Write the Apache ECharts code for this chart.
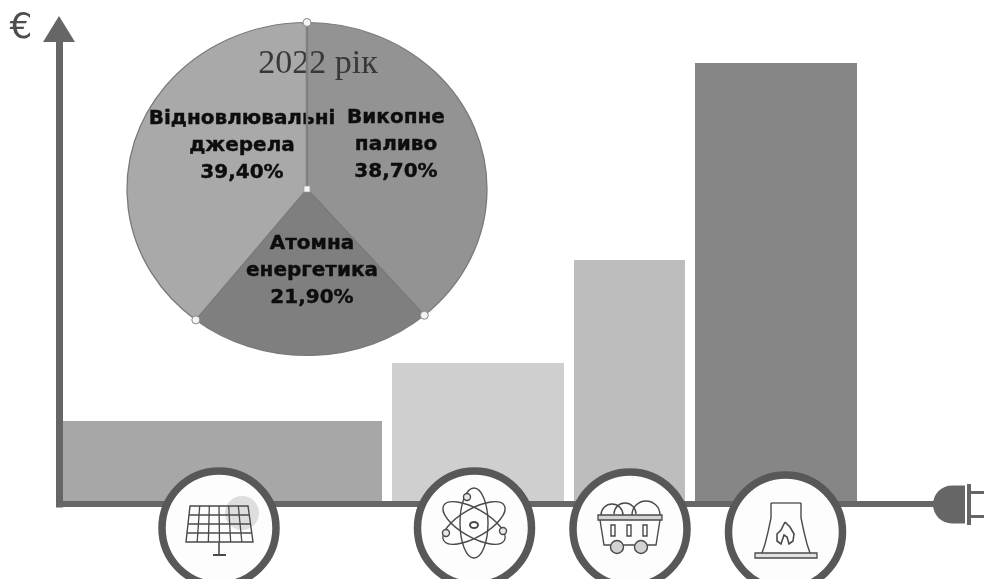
<!DOCTYPE html>
<html>
<head>
<meta charset="utf-8">
<title>Ціна та структура генерації електроенергії</title>
<style>html,body{margin:0;padding:0;background:#fff}#chart{width:984px;height:579px}</style>
<script src="https://cdn.jsdelivr.net/npm/echarts@6/dist/echarts.min.js"></script>
</head>
<body>
<div id="chart"></div>
<script>
// Merit-order bars: width is generation capacity, height is the price
const sources = ['Сонячна енергетика', 'Атомна енергетика', 'Вугілля', 'Газ'];
const capacity = [319, 172, 111, 162];
const price = [83, 141, 244, 441];
const barColors = ['#a7a7a7', '#cfcfcf', '#bdbdbd', '#868686'];

// 2022 generation mix, clockwise from twelve o'clock
const mixNames = ['Викопне\nпаливо', 'Атомна\nенергетика', 'Відновлювальні\nджерела'];
const mixShares = [38.7, 21.9, 39.4];
const mixLabels = ['38,70%', '21,90%', '39,40%'];
const mixColors = ['#939393', '#7f7f7f', '#a9a9a9'];

const mixTitle = '2022 рік';
const priceAxisName = '€';

const AXIS = '#666666', RING = '#585858', INK = '#4a4a4a';
const LEAD = 4, GAP = 10;                       // spacing along the capacity axis
const PIE = {cx: 307, cy: 189, rx: 180, ry: 166.5};

const chart = echarts.init(document.getElementById('chart'), null, {renderer: 'canvas'});

function renderBar(params, api) {
  const i = params.dataIndex;
  let start = LEAD;
  for (let k = 0; k < i; k++) start += capacity[k] + GAP;
  const p0 = api.coord([start, 0]);
  const p1 = api.coord([start + api.value(0), api.value(1)]);
  return {type: 'rect', shape: {x: p0[0], y: p1[1], width: p1[0] - p0[0], height: p0[1] - p1[1]},
          style: {fill: barColors[i]}};
}

function renderSlice(params, api) {
  const i = params.dataIndex;
  const total = mixShares.reduce((a, b) => a + b, 0);
  let before = 0;
  for (let k = 0; k < i; k++) before += mixShares[k];
  const a0 = -Math.PI / 2 + before / total * Math.PI * 2;
  const a1 = a0 + api.value(0) / total * Math.PI * 2;
  return {type: 'sector', x: PIE.cx, y: PIE.cy, scaleX: PIE.rx / PIE.ry, scaleY: 1,
          shape: {cx: 0, cy: 0, r0: 0, r: PIE.ry, startAngle: a0, endAngle: a1, clockwise: true},
          style: {fill: mixColors[i], stroke: '#7a7a7a', lineWidth: 1.2}};
}

// Point on the pie's rim at a cumulative share
function rimPoint(cum) {
  const a = cum / 100 * Math.PI * 2;
  return [PIE.cx + Math.sin(a) * PIE.rx, PIE.cy - Math.cos(a) * PIE.ry];
}

function sliceText(lines, x, y0) {
  return lines.map((t, n) => ({
    type: 'text', z: 20, x: x, y: y0 + n * 27,
    style: {text: t, fill: '#0d0d0d', stroke: '#0d0d0d', lineWidth: 0.4,
            font: 'bold 20px "DejaVu Sans"', textAlign: 'center', textVerticalAlign: 'middle'}
  }));
}

function ring(cx, cy) {
  return {type: 'circle', z: 30, shape: {cx: cx, cy: cy, r: 57},
          style: {fill: '#fdfdfd', stroke: RING, lineWidth: 7.5}};
}
const thin = {stroke: INK, lineWidth: 1.4, fill: 'none'};
function ln(x1, y1, x2, y2, w) {
  return {type: 'line', z: 32, shape: {x1, y1, x2, y2}, style: {stroke: INK, lineWidth: w || 1.3}};
}
function poly(points, fill) {
  return {type: 'polygon', z: 32, shape: {points}, style: {stroke: INK, lineWidth: 1.4, fill: fill || 'none'}};
}

function solarIcon() {
  const out = [ring(219, 528),
    {type: 'circle', z: 31, shape: {cx: 242, cy: 513, r: 17}, style: {fill: '#dedede'}},
    poly([[190, 506], [248, 506], [253, 542], [186, 542]])];
  [0.25, 0.5, 0.75].forEach(t => out.push(ln(190 - 4 * t, 506 + 36 * t, 248 + 5 * t, 506 + 36 * t)));
  [1, 2, 3, 4, 5].forEach(n => {
    const t = n / 6;
    out.push(ln(190 + 58 * t, 506, 186 + 67 * t, 542));
  });
  out.push(ln(219, 542, 219, 555, 1.6), ln(213, 555, 226, 555, 2));
  return out;
}

function atomIcon() {
  const cx = 474, cy = 523;
  const out = [ring(474.5, 528)];
  [0, Math.PI / 3, -Math.PI / 3].forEach(r => out.push({
    type: 'ellipse', z: 32, x: cx, y: cy, rotation: r, shape: {cx: 0, cy: 0, rx: 14, ry: 35}, style: thin
  }));
  out.push({type: 'ellipse', z: 32, shape: {cx: cx, cy: cy + 2, rx: 4, ry: 3}, style: {stroke: INK, lineWidth: 2, fill: 'none'}});
  [[467, 497], [446, 533], [503, 531]].forEach(p => out.push({
    type: 'circle', z: 33, shape: {cx: p[0], cy: p[1], r: 3.5}, style: {stroke: INK, lineWidth: 1.4, fill: '#e8e8e8'}
  }));
  return out;
}

function coalIcon() {
  const out = [ring(630, 529)];
  [[612, 515, 11], [625, 514, 11], [646, 515, 14]].forEach(c => out.push({
    type: 'arc', z: 32, shape: {cx: c[0], cy: c[1], r: c[2], startAngle: Math.PI, endAngle: 0, clockwise: true}, style: thin
  }));
  out.push({type: 'rect', z: 33, shape: {x: 598, y: 515, width: 64, height: 5}, style: {stroke: INK, lineWidth: 1.3, fill: '#d4d4d4'}});
  out.push({type: 'polyline', z: 32, shape: {points: [[600, 520], [604, 545], [656, 545], [660, 520]]}, style: thin});
  [613, 629, 645].forEach(x => out.push({type: 'rect', z: 32, shape: {x: x - 2, y: 525, width: 4, height: 11}, style: thin}));
  [617, 641].forEach(x => out.push({type: 'circle', z: 33, shape: {cx: x, cy: 547, r: 6.5}, style: {stroke: INK, lineWidth: 1.4, fill: '#d2d2d2'}}));
  return out;
}

function towerIcon() {
  const out = [ring(785.5, 532)];
  out.push({type: 'polyline', z: 32, shape: {points: [[771, 503], [771, 518], [768, 532], [765, 544], [762, 553]]}, style: thin});
  out.push({type: 'polyline', z: 32, shape: {points: [[801, 503], [801, 518], [804, 532], [807, 544], [810, 553]]}, style: thin});
  out.push(ln(771, 503, 801, 503));
  out.push({type: 'rect', z: 32, shape: {x: 755, y: 553, width: 62, height: 5}, style: {stroke: INK, lineWidth: 1.3, fill: '#e2e2e2'}});
  out.push({type: 'polyline', z: 32, shape: {points: [[785, 522], [790, 527], [794, 534], [793, 541], [789, 544], [787, 537], [784, 535], [781, 544], [777, 541], [777, 534], [781, 530], [785, 522]]}, style: {stroke: INK, lineWidth: 1.6, fill: 'none'}});
  return out;
}

function plugIcon() {
  return [
    {type: 'sector', z: 31, shape: {cx: 952, cy: 504.5, r: 19, r0: 0, startAngle: Math.PI / 2, endAngle: Math.PI * 1.5, clockwise: true}, style: {fill: AXIS}},
    {type: 'rect', z: 31, shape: {x: 952, y: 485.5, width: 13, height: 38}, style: {fill: AXIS}},
    {type: 'rect', z: 31, shape: {x: 967, y: 484, width: 4, height: 41}, style: {fill: AXIS}},
    {type: 'rect', z: 31, shape: {x: 971, y: 491, width: 13, height: 3}, style: {fill: AXIS}},
    {type: 'rect', z: 31, shape: {x: 971, y: 515, width: 13, height: 3}, style: {fill: AXIS}}
  ];
}

// Spokes and handles sit over the slices and their captions
const dots = [[PIE.cx, PIE.cy - PIE.ry], rimPoint(mixShares[0]), rimPoint(mixShares[0] + mixShares[1])];
const handles = dots.map(p => ({
  type: 'circle', z: 25, shape: {cx: p[0], cy: p[1], r: 4},
  style: {fill: '#f4f4f4', stroke: '#8a8a8a', lineWidth: 1}
}));
handles.push({type: 'rect', z: 25, shape: {x: PIE.cx - 3, y: PIE.cy - 3, width: 6, height: 6},
  style: {fill: '#f4f4f4', stroke: '#999', lineWidth: 0.6}});

const [n0, n1, n2] = mixNames.map(s => s.split('\n'));

const graphics = [
  {type: 'text', z: 20, x: 318, y: 64,
   style: {text: mixTitle, fill: '#383838', font: '34px "Liberation Serif"', textAlign: 'center', textVerticalAlign: 'middle'}},
  ...sliceText([...n2, mixLabels[2]], 242, 119),
  ...sliceText([...n0, mixLabels[0]], 396, 118),
  ...sliceText([...n1, mixLabels[1]], 312, 244),
  {type: 'line', z: 22, shape: {x1: PIE.cx, y1: PIE.cy - PIE.ry, x2: PIE.cx, y2: PIE.cy},
   style: {stroke: '#808080', lineWidth: 2.5}},
  ...handles,
  ...solarIcon(), ...atomIcon(), ...coalIcon(), ...towerIcon(), ...plugIcon(),
  {type: 'text', z: 20, x: 21, y: 29,
   style: {text: priceAxisName, fill: '#4d4d4d', font: '36px "DejaVu Sans"', textAlign: 'center', textVerticalAlign: 'middle'}}
];

chart.setOption({
  animation: false,
  backgroundColor: '#ffffff',
  grid: {left: 59, right: 49, top: 29, bottom: 75},
  xAxis: {type: 'value', min: 0, max: 876, z: 3, splitLine: {show: false},
          axisTick: {show: false}, axisLabel: {show: false},
          axisLine: {show: true, onZero: false, lineStyle: {color: AXIS, width: 6}}},
  yAxis: {type: 'value', min: 0, max: 475, z: 3, splitLine: {show: false},
          axisTick: {show: false}, axisLabel: {show: false},
          axisLine: {show: true, onZero: false, symbol: ['none', 'triangle'], symbolSize: [32, 26],
                     lineStyle: {color: AXIS, width: 7, cap: 'square'}}},
  series: [
    {name: 'Ціна', type: 'custom', coordinateSystem: 'cartesian2d', renderItem: renderBar,
     encode: {x: 0, y: 1}, clip: false, silent: true, z: 1,
     data: capacity.map((c, i) => [c, price[i], sources[i]])},
    {name: mixTitle, type: 'custom', coordinateSystem: 'none', renderItem: renderSlice, silent: true, z: 5,
     data: mixShares.map(v => [v])}
  ],
  graphic: {elements: graphics}
});
</script>
</body>
</html>
